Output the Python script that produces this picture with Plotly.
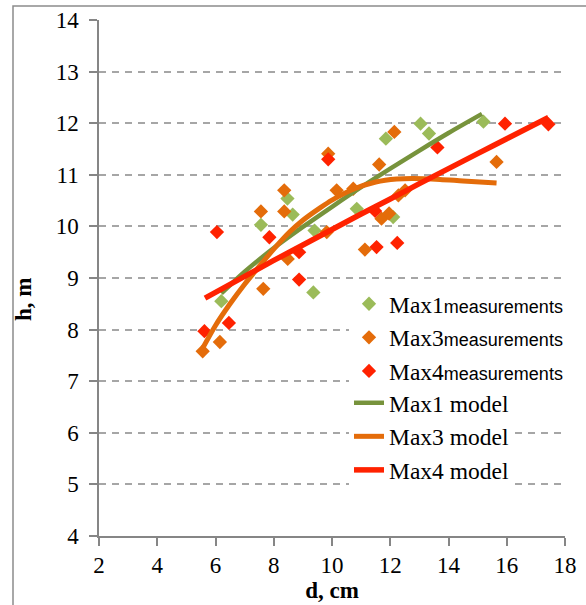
import plotly.graph_objects as go

# Measured stem diameter d (cm) and height h (m) for each stand
max1_d = [6.2, 7.56, 8.47, 8.65, 9.40, 9.36, 10.85, 11.85, 12.10, 13.04, 13.33, 15.20]
max1_h = [8.55, 10.03, 10.54, 10.23, 9.92, 8.72, 10.34, 11.70, 10.18, 11.99, 11.80, 12.03]

max3_d = [5.56, 6.15, 7.64, 7.56, 8.36, 8.36, 8.48, 9.82, 9.87, 10.16, 10.73, 11.13,
          11.62, 11.70, 11.96, 12.14, 12.28, 12.51, 15.65]
max3_h = [7.58, 7.76, 8.79, 10.29, 10.70, 10.29, 9.37, 9.89, 11.41, 10.70, 10.73, 9.55,
          11.20, 10.15, 10.25, 11.83, 10.60, 10.70, 11.25]

max4_d = [5.62, 6.05, 6.46, 7.85, 8.87, 8.87, 9.87, 11.48, 11.53, 12.24, 13.62, 15.94, 17.43]
max4_h = [7.97, 9.89, 8.13, 9.79, 9.50, 8.97, 11.30, 10.30, 9.60, 9.68, 11.53, 11.99, 11.98]

# Fitted height-diameter curves
model1_d = [6.2, 7, 8, 9, 10, 11, 12, 13, 14, 15.15]
model1_h = [8.70, 9.12, 9.58, 9.99, 10.38, 10.76, 11.12, 11.47, 11.81, 12.18]

model3_d = [5.58, 6.0, 6.5, 7.0, 7.64, 8.0, 8.56, 9.0, 9.59, 10.0, 10.73, 11.5,
            12.22, 12.8, 13.71, 14.5, 15.65]
model3_h = [7.66, 8.08, 8.50, 8.88, 9.32, 9.56, 9.90, 10.12, 10.36, 10.51, 10.72, 10.86,
            10.92, 10.93, 10.91, 10.88, 10.84]

model4_d = [5.64, 7, 8, 9, 10, 11, 12, 13, 14, 15, 16, 17.43]
model4_h = [8.61, 9.03, 9.34, 9.64, 9.94, 10.24, 10.53, 10.83, 11.12, 11.41, 11.70, 12.11]

x_ticks = [2, 4, 6, 8, 10, 12, 14, 16, 18]
y_ticks = [4, 5, 6, 7, 8, 9, 10, 11, 12, 13, 14]

SERIF = "Liberation Serif, Tinos, Times New Roman, serif"
SANS = "Liberation Sans"
AXIS_GREY = "#868686"
GRID_GREY = "#a6a6a6"
LEG_SIZE = 23.5
TICK_SIZE = 23


def meas_name(prefix):
    return (prefix + '<span style="font-family:' + SANS +
            ';font-size:18px">measurements</span>')


fig = go.Figure()

for d, h, name, col in [
    (max1_d, max1_h, "Max1", "#9BBB59"),
    (max3_d, max3_h, "Max3", "#E46C0A"),
    (max4_d, max4_h, "Max4", "#FF2200"),
]:
    fig.add_trace(go.Scatter(
        x=d, y=h, mode="markers", name=meas_name(name),
        marker=dict(symbol="diamond", size=11, color=col, line=dict(width=0)),
        legend="legend",
    ))

for d, h, name, col, w in [
    (model1_d, model1_h, "Max1 model", "#77933C", 4.5),
    (model3_d, model3_h, "Max3 model", "#E46C0A", 5),
    (model4_d, model4_h, "Max4 model", "#FF2200", 5.5),
]:
    fig.add_trace(go.Scatter(
        x=d, y=h, mode="lines", name=name,
        line=dict(color=col, width=w, shape="spline", smoothing=0.8),
        legend="legend2",
    ))

# plot area in pixels: x 99..565, y 20..536
L, R, T, B = 99, 565, 20, 536
W, H = 586, 605
pw, ph = R - L, B - T


def px_x(p):
    return (p - L) / pw


def px_y(p):
    return (B - p) / ph


legend_style = dict(
    xanchor="left", yanchor="top", bgcolor="white", borderwidth=0,
    tracegroupgap=0, font=dict(family=SERIF, size=LEG_SIZE, color="black"),
)

fig.update_layout(
    width=W, height=H,
    margin=dict(l=L, r=W - R, t=T, b=H - B, autoexpand=False),
    paper_bgcolor="white", plot_bgcolor="white",
    font=dict(family=SERIF, size=TICK_SIZE, color="black"),
    showlegend=True,
    legend=dict(x=px_x(349), y=px_y(282), **legend_style),
    legend2=dict(x=px_x(349), y=px_y(381), **legend_style),
    xaxis=dict(
        range=[2, 18], tickvals=x_ticks, ticks="outside", ticklen=8,
        tickwidth=1.5, tickcolor=AXIS_GREY, showline=True, linecolor=AXIS_GREY,
        linewidth=1.5, showgrid=False, zeroline=False,
        tickfont=dict(family=SERIF, size=TICK_SIZE, color="black"),
        title=dict(text="<b>d, cm</b>", standoff=2,
                   font=dict(family=SERIF, size=23, color="black")),
    ),
    yaxis=dict(
        range=[4, 14], tickvals=y_ticks, ticks="outside", ticklen=8,
        tickwidth=1.5, tickcolor=AXIS_GREY, showline=True, linecolor=AXIS_GREY,
        linewidth=1.5, showgrid=True, gridcolor=GRID_GREY, gridwidth=1.5,
        griddash="7px,6px", zeroline=False, ticklabelstandoff=6,
        tickfont=dict(family=SERIF, size=TICK_SIZE, color="black"),
    ),
    annotations=[dict(
        text="<b>h, m</b>", textangle=-90, showarrow=False,
        xref="paper", yref="paper", x=px_x(23), y=px_y(300),
        xanchor="center", yanchor="middle",
        font=dict(family=SERIF, size=23, color="black"),
    )],
    shapes=[dict(
        type="rect", xref="paper", yref="paper", layer="above",
        x0=px_x(13), x1=px_x(620), y0=px_y(640), y1=px_y(6),
        line=dict(color="#8c8c8c", width=1.5),
    )],
)

fig.write_html("out.html")
